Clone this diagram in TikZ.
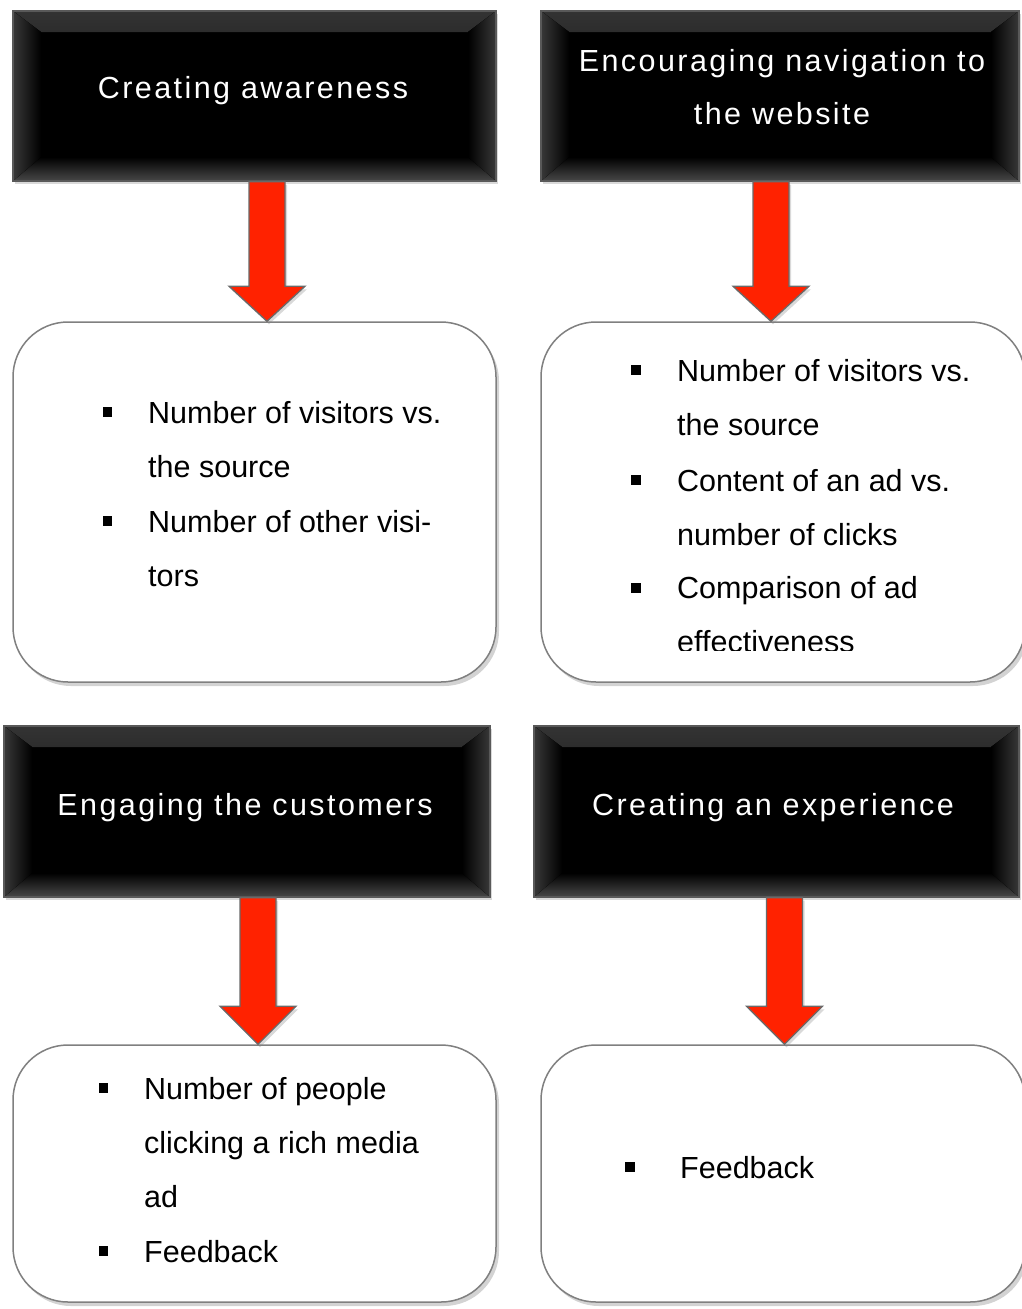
\documentclass[tikz,border=0pt]{standalone}
\usepackage{fontspec}
\setmainfont{Liberation Sans}
\newfontfamily\hdfont[LetterSpace=8]{Liberation Sans}
\newfontfamily\bdfont{Liberation Sans}
\usetikzlibrary{calc,shadows}
\definecolor{arrred}{RGB}{255,34,0}
\definecolor{arredge}{RGB}{105,105,105}
\definecolor{boxedge}{RGB}{128,128,128}
\tikzset{
  hdrbox/.style={rectangle, fill=black, draw=black!65, line width=1.2pt, inner sep=0,
    drop shadow={shadow xshift=2pt, shadow yshift=-3pt, opacity=0.3},
    path picture={
      \fill[top color=black!80, bottom color=black]
        (path picture bounding box.north west) -- (path picture bounding box.north east)
        -- ([xshift=-28pt,yshift=-21pt]path picture bounding box.north east)
        -- ([xshift=28pt,yshift=-21pt]path picture bounding box.north west) -- cycle;
      \fill[top color=black, bottom color=black!72]
        (path picture bounding box.south west) -- (path picture bounding box.south east)
        -- ([xshift=-28pt,yshift=24pt]path picture bounding box.south east)
        -- ([xshift=28pt,yshift=24pt]path picture bounding box.south west) -- cycle;
      \fill[left color=black!78, right color=black]
        (path picture bounding box.north west)
        -- ([xshift=28pt,yshift=-21pt]path picture bounding box.north west)
        -- ([xshift=28pt,yshift=24pt]path picture bounding box.south west)
        -- (path picture bounding box.south west) -- cycle;
      \fill[left color=black, right color=black!78]
        (path picture bounding box.north east)
        -- ([xshift=-28pt,yshift=-21pt]path picture bounding box.north east)
        -- ([xshift=-28pt,yshift=24pt]path picture bounding box.south east)
        -- (path picture bounding box.south east) -- cycle;
    }},
  hdrtext/.style={text=white, font=\hdfont\fontsize{30.5}{53}\selectfont, align=center, inner sep=0},
  bodybox/.style={rectangle, rounded corners=55pt, fill=white, draw=boxedge, line width=1.5pt,
    drop shadow={shadow xshift=3pt, shadow yshift=-4pt, opacity=0.35}},
  bodytext/.style={font=\bdfont\fontsize{30.5}{36}\selectfont, anchor=base west, inner sep=0},
  bul/.style={rectangle, fill=black, minimum size=9.5pt, inner sep=0},
  redarrow/.style={fill=arrred, draw=arredge, line width=1.3pt, line join=miter,
    drop shadow={shadow xshift=2pt, shadow yshift=-3pt, opacity=0.3}}
}
\newcommand\blockarr[3]{% start, end, head height
  \path[redarrow] ($(#1)+(-18,0)$) -- ($(#2)+(-18,-#3)$) -- ($(#2)+(-38,-#3)$) -- (#2)
    -- ($(#2)+(38,-#3)$) -- ($(#2)+(18,-#3)$) -- ($(#1)+(18,0)$) -- cycle;}
\begin{document}
\begin{tikzpicture}[x=1pt,y=-1pt]
\useasboundingbox (0,0) rectangle (1021,1309);

% header boxes
\node[hdrbox, minimum width=483pt, minimum height=170pt] (h1) at (254.5,96) {};
\node[hdrbox, minimum width=478pt, minimum height=170pt] (h2) at (780,96) {};
\node[hdrbox, minimum width=486pt, minimum height=171pt] (h3) at (247,811.5) {};
\node[hdrbox, minimum width=485pt, minimum height=171pt] (h4) at (776.5,811.5) {};

\node[hdrtext, anchor=base] (h1t) at (253,98) {Creating awareness};
\node[hdrtext, anchor=base] (h2t) at (782,71) {Encouraging navigation to};
\node[hdrtext, anchor=base] (h2u) at (782,124) {the website};
\node[hdrtext, anchor=base] (h3t) at (245,815) {Engaging the customers};
\node[hdrtext, anchor=base] (h4t) at (773,815) {Creating an experience};

% body boxes
\node[bodybox, minimum width=483pt, minimum height=360pt] (b1) at (254.5,502) {};
\node[bodybox, minimum width=484pt, minimum height=360pt] (b2) at (783,502) {};
\node[bodybox, minimum width=483pt, minimum height=257pt] (b3) at (254.5,1173.5) {};
\node[bodybox, minimum width=484pt, minimum height=257pt] (b4) at (783,1173.5) {};

% arrows
\path (h1.south) ++(12.5,0) coordinate (a1s);
\coordinate (a1e) at (a1s |- b1.north);
\path (h2.south) ++(-9,0) coordinate (a2s);
\coordinate (a2e) at (a2s |- b2.north);
\path (h3.south) ++(11,0) coordinate (a3s);
\coordinate (a3e) at (a3s |- b3.north);
\path (h4.south) ++(8,0) coordinate (a4s);
\coordinate (a4e) at (a4s |- b4.north);
\blockarr{a1s}{a1e}{35}
\blockarr{a2s}{a2e}{35}
\blockarr{a3s}{a3e}{38}
\blockarr{a4s}{a4e}{38}

% box 1 text
\node[bul] (p1a) at (107.5,412) {};
\node[bodytext] (t1a) at (148,423) {Number of visitors vs.};
\node[bodytext] (t1b) at (148,477) {the source};
\node[bul] (p1b) at (107.5,521) {};
\node[bodytext] (t1c) at (148,532) {Number of other visi-};
\node[bodytext] (t1d) at (148,586) {tors};

% box 2 text
\node[bul] (p2a) at (636,370) {};
\node[bodytext] (t2a) at (677,381) {Number of visitors vs.};
\node[bodytext] (t2b) at (677,435) {the source};
\node[bul] (p2b) at (636,480) {};
\node[bodytext] (t2c) at (677,491) {Content of an ad vs.};
\node[bodytext] (t2d) at (677,545) {number of clicks};
\node[bul] (p2c) at (636,588) {};
\node[bodytext] (t2e) at (677,598) {Comparison of ad};
\begin{scope}
\clip (530,600) rectangle (1021,650);
\node[bodytext] (t2f) at (677,652) {effectiveness};
\end{scope}

% box 3 text
\node[bul] (p3a) at (103.5,1088) {};
\node[bodytext] (t3a) at (144,1099) {Number of people};
\node[bodytext] (t3b) at (144,1153) {clicking a rich media};
\node[bodytext] (t3c) at (144,1207) {ad};
\node[bul] (p3b) at (103.5,1251) {};
\node[bodytext] (t3d) at (144,1262) {Feedback};

% box 4 text
\node[bul] (p4a) at (630,1167) {};
\node[bodytext] (t4a) at (680,1178) {Feedback};
\end{tikzpicture}
\end{document}
